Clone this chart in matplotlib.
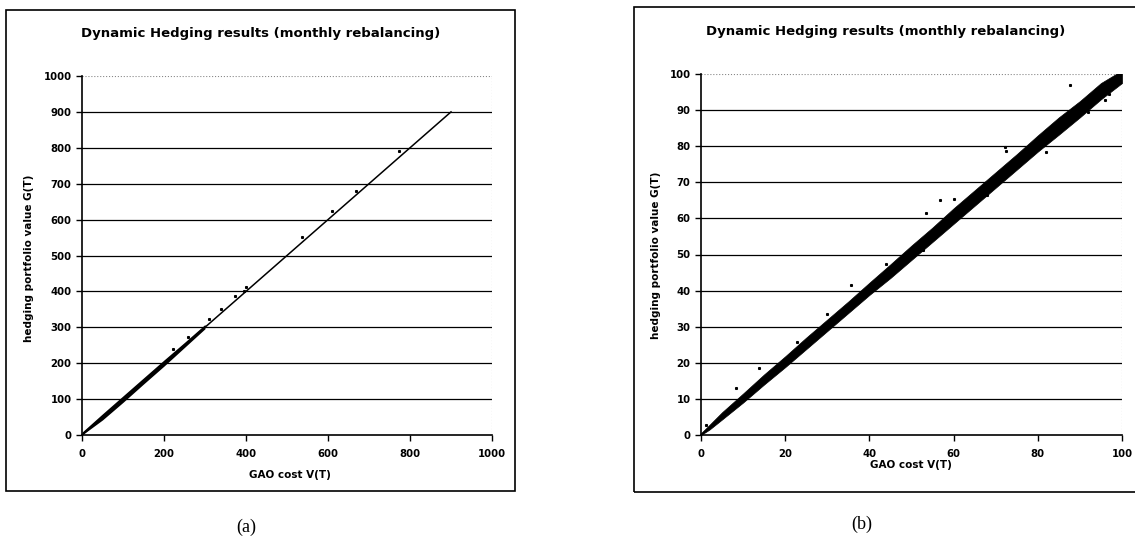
import matplotlib
matplotlib.use("Agg")
import matplotlib.pyplot as plt
from matplotlib.patches import Rectangle

plt.rcParams['font.family'] = ['DejaVu Sans']

# ---- panel (a): V(T) 0..1000 ----
a_line_v = [0, 900]
a_line_g = [0, 900]
a_band_v = [0, 50, 100, 150, 200, 250, 300]
a_band_lo = [0, 42, 91, 142, 192, 244, 296]
a_band_hi = [8, 59, 109, 159, 209, 258, 308]
a_out_v = [773, 668, 609, 537, 401, 395, 372, 338, 258, 222, 310]
a_out_g = [790, 679, 625, 552, 411, 400, 388, 350, 273, 240, 322]
a_ticks_x = [0, 200, 400, 600, 800, 1000]
a_ticks_y = [0, 100, 200, 300, 400, 500, 600, 700, 800, 900, 1000]

# ---- panel (b): V(T) 0..100 ----
b_line_v = [0, 100]
b_line_g = [0, 100]
b_band_v = [0, 2, 5, 10, 15, 20, 25, 30, 35, 40, 45, 50, 55, 60, 65, 70, 75, 80, 85, 90, 95, 100]
b_band_lo = [0, 1.5, 4.3, 9.0, 14.0, 18.8, 23.8, 28.8, 33.8, 38.8, 43.5, 48.5, 53.5,
             58.5, 63.5, 68.5, 73.5, 78.5, 83.2, 88.0, 93.0, 97.5]
b_band_hi = [0.5, 2.8, 6.3, 11.5, 16.8, 21.8, 27.0, 32.0, 37.0, 42.2, 47.3, 52.5, 57.5,
             62.8, 67.8, 72.8, 77.8, 83.0, 88.0, 92.5, 97.5, 101]
b_out_v = [87.6, 95.9, 72.2, 72.5, 53.5, 52.7, 35.7, 13.7, 8.3, 1.2, 22.8, 56.8,
           68.0, 44.0, 82.0, 92.0, 97.0, 30.0, 60.0]
b_out_g = [97.0, 92.8, 79.9, 78.8, 61.4, 51.2, 41.5, 18.5, 12.9, 2.8, 25.9, 65.0,
           66.5, 47.5, 78.5, 89.5, 94.5, 33.5, 65.5]
b_ticks_x = [0, 20, 40, 60, 80, 100]
b_ticks_y = [0, 10, 20, 30, 40, 50, 60, 70, 80, 90, 100]

title = "Dynamic Hedging results (monthly rebalancing)"
xlab = "GAO cost V(T)"
ylab = "hedging portfolio value G(T)"

W, H = 1135, 551
fig = plt.figure(figsize=(W / 100, H / 100), dpi=100)


def px(x0, y_top, x1, y_bot):
    return [x0 / W, 1 - y_bot / H, (x1 - x0) / W, (y_bot - y_top) / H]


def setup(ax, xt, yt):
    top = yt[-1]
    right = xt[-1]
    ax.set_xlim(0, right)
    ax.set_ylim(0, top)
    ax.set_xticks(xt)
    ax.set_yticks(yt)
    for y in yt[1:-1]:
        ax.axhline(y, color='black', lw=0.9, zorder=1)
    ax.axhline(top, color='#888888', lw=0.8, ls=':', zorder=1)
    ax.axvline(right, color='#888888', lw=0.8, ls=':', zorder=1)
    for s in ['top', 'right']:
        ax.spines[s].set_visible(False)
    for s in ['left', 'bottom']:
        ax.spines[s].set_linewidth(1.2)
    ax.tick_params(direction='out', length=4, width=1, labelsize=7.3)
    ax.tick_params(axis='x', pad=6)
    ax.tick_params(axis='y', pad=3.5)
    for lab in ax.get_xticklabels() + ax.get_yticklabels():
        lab.set_fontweight('bold')


# panel (a)
ax1 = fig.add_axes(px(82, 76, 492, 435))
setup(ax1, a_ticks_x, a_ticks_y)
ax1.fill_between(a_band_v, a_band_lo, a_band_hi, color='black', lw=0, zorder=3)
ax1.plot(a_line_v, a_line_g, color='black', lw=1.1, zorder=3)
ax1.plot(a_out_v, a_out_g, ls='none', marker='s', ms=1.2, color='black', zorder=3)

# panel (b)
ax2 = fig.add_axes(px(701, 74, 1122, 435))
setup(ax2, b_ticks_x, b_ticks_y)
ax2.fill_between(b_band_v, b_band_lo, b_band_hi, color='black', lw=0.5, zorder=3)
ax2.plot(b_line_v, b_line_g, color='black', lw=1.0, zorder=3)
ax2.plot(b_out_v, b_out_g, ls='none', marker='s', ms=1.2, color='black', zorder=3)

# frames around the charts (right one runs off the page edge)
fig.add_artist(Rectangle((6 / W, 1 - 491 / H), 509 / W, 481 / H, transform=fig.transFigure,
                         fill=False, ec='black', lw=1.2))
fig.add_artist(Rectangle((634 / W, 1 - 492 / H), 510 / W, 485 / H, transform=fig.transFigure,
                         fill=False, ec='black', lw=1.2))

# titles and labels
fig.text(261 / W, 1 - 33 / H, title, ha='center', va='center', fontsize=9.5, fontweight='bold')
fig.text(886 / W, 1 - 32 / H, title, ha='center', va='center', fontsize=9.5, fontweight='bold')
fig.text(290 / W, 1 - 475 / H, xlab, ha='center', va='center', fontsize=7.5, fontweight='bold')
fig.text(911 / W, 1 - 465 / H, xlab, ha='center', va='center', fontsize=7.5, fontweight='bold')
fig.text(29 / W, 1 - 258 / H, ylab, ha='center', va='center', rotation=90, fontsize=7.5, fontweight='bold')
fig.text(656 / W, 1 - 255 / H, ylab, ha='center', va='center', rotation=90, fontsize=7.5, fontweight='bold')

fig.text(246 / W, 1 - 527 / H, "(a)", ha='center', va='center', fontsize=13, family='Liberation Serif')
fig.text(862 / W, 1 - 524 / H, "(b)", ha='center', va='center', fontsize=13, family='Liberation Serif')

fig.savefig("out.png", dpi=100)
